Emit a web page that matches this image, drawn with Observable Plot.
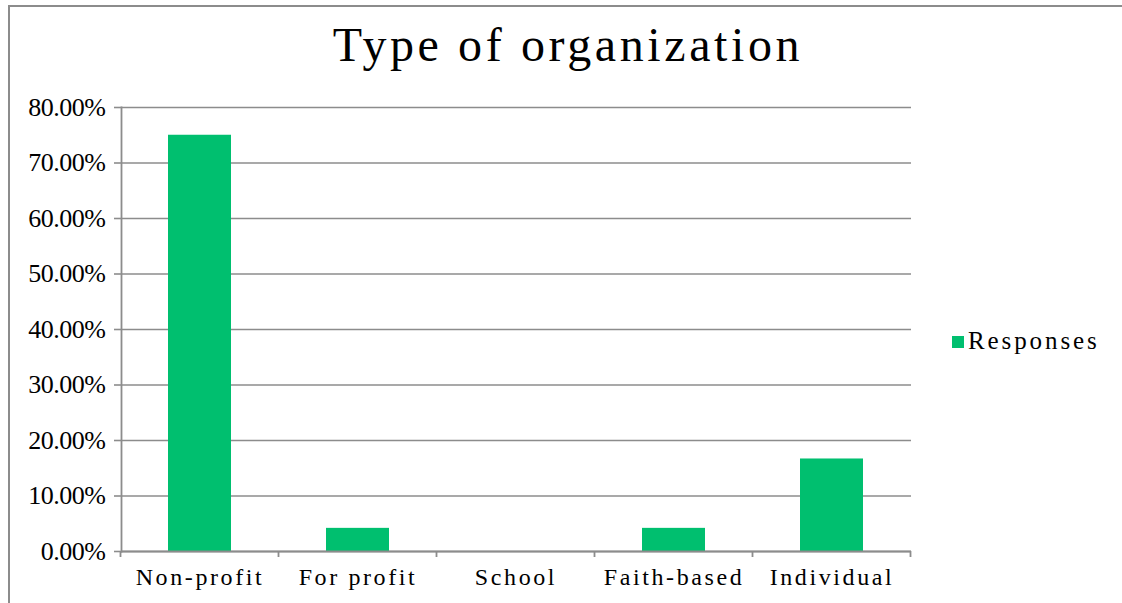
<!DOCTYPE html>
<html>
<head>
<meta charset="utf-8">
<script src="https://cdn.jsdelivr.net/npm/d3@7"></script>
<script src="https://cdn.jsdelivr.net/npm/@observablehq/plot@0.6"></script>
<style>
  html, body { margin: 0; padding: 0; background: #fff; }
  #wrap { position: relative; width: 1122px; height: 603px; overflow: hidden; font-family: 'Liberation Serif'; }
  #border { position: absolute; left: 8px; top: 5px; width: 1200px; height: 700px; border-top: 2px solid #8c8c8c; border-left: 2px solid #8c8c8c; }
  #title { position: absolute; top: 17px; left: 0; width: 1136px; text-align: center; font-family: 'Liberation Serif'; font-size: 48px; letter-spacing: 3.6px; color: #000; }
  #legend { position: absolute; left: 952px; top: 327px; font-family: 'Liberation Serif'; font-size: 25px; letter-spacing: 2.9px; color: #000; display: flex; align-items: center; }
  #legend .sw { width: 12px; height: 12px; background: #00BF6F; margin-right: 4px; margin-top: 2px; }
  #chart { position: absolute; left: 0; top: 0; }
  #chart svg, #chart svg text { font-family: 'Liberation Serif' !important; }
  #chart g[aria-label="x-axis tick label"] text { letter-spacing: 2.6px; }
  #chart g[aria-label="y-axis tick label"] text { letter-spacing: -0.5px; font-size: 26px; }
</style>
</head>
<body>
<div id="wrap">
  <div id="border"></div>
  <div id="chart"></div>
  <div id="title">Type of organization</div>
  <div id="legend"><span class="sw"></span><span>Responses</span></div>
</div>
<script>
const categories = ["Non-profit", "For profit", "School", "Faith-based", "Individual"];
const responses = [0.75, 0.0417, 0, 0.0417, 0.1667];
const yTicks = [0, 0.1, 0.2, 0.3, 0.4, 0.5, 0.6, 0.7, 0.8];
const seriesName = "Responses";

const data = categories.map((c, i) => ({type: c, value: responses[i], series: seriesName}));
const gray = "#8c8c8c";

const chart = Plot.plot({
  width: 1122,
  height: 603,
  marginTop: 107,
  marginBottom: 52,
  marginLeft: 121,
  marginRight: 211,
  style: {fontFamily: "Liberation Serif", fontSize: "24px", color: "#000", background: "transparent"},
  x: {type: "band", domain: categories, paddingInner: 0.6, paddingOuter: 0.3, label: null},
  y: {domain: [0, 0.8], label: null},
  marks: [
    Plot.gridY(yTicks, {stroke: gray, strokeOpacity: 1, strokeWidth: 1.6}),
    Plot.barY(data, {x: "type", y: "value", fill: "#00BF6F"}),
    Plot.ruleY([0], {stroke: gray, strokeWidth: 1.8}),
    Plot.frame({anchor: "left", stroke: gray, strokeWidth: 1.8}),
    Plot.axisY({ticks: yTicks, tickFormat: d3.format(".2%"), tickSize: 7, tickPadding: 9, stroke: gray, strokeWidth: 1.6, fill: "#000", label: null}),
    Plot.axisX({tickSize: 0, tickPadding: 16, fill: "#000", label: null})
  ]
});
document.getElementById("chart").appendChild(chart);

// category boundary tick marks, from the band scale
const xs = chart.scale("x");
const ys = chart.scale("y");
const step = xs.step;
const y0 = ys.apply(0);
const svg = d3.select(chart);
const bounds = categories.map(c => xs.apply(c) - (step - xs.bandwidth) / 2);
bounds.push(xs.apply(categories[categories.length - 1]) + xs.bandwidth + (step - xs.bandwidth) / 2);
svg.append("g").selectAll("line").data(bounds).join("line")
  .attr("x1", d => d).attr("x2", d => d)
  .attr("y1", y0).attr("y2", y0 + 6)
  .attr("stroke", gray).attr("stroke-width", 1.8);
</script>
</body>
</html>
